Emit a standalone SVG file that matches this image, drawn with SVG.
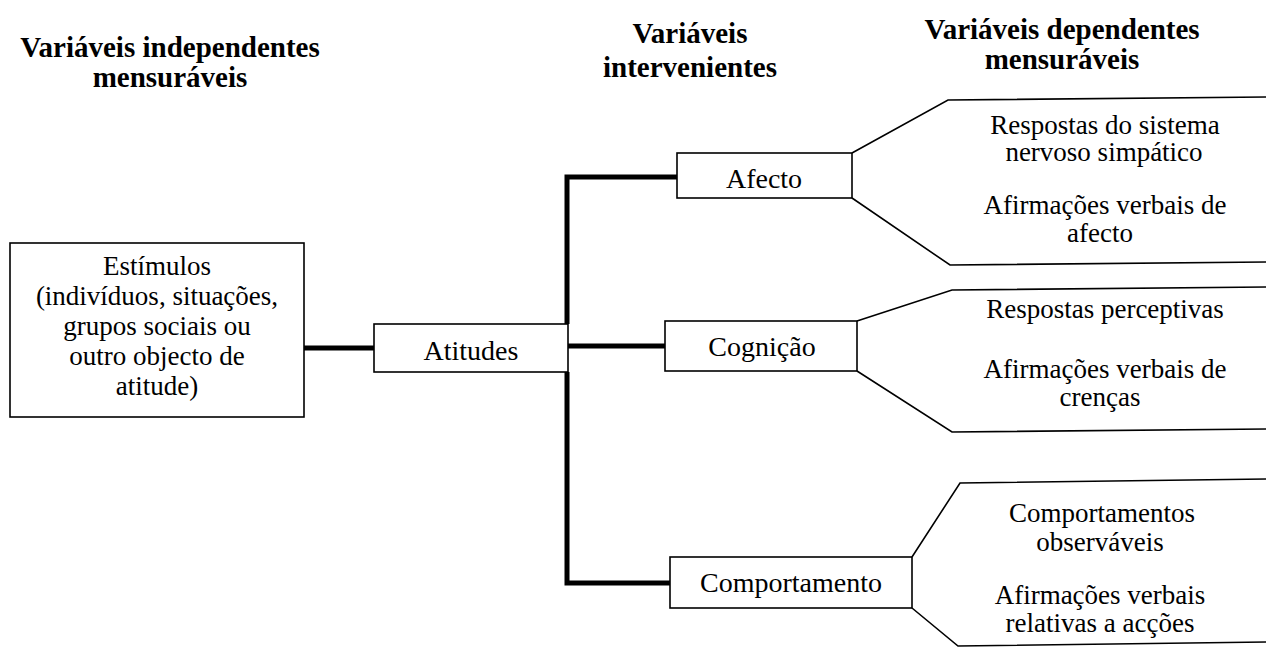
<svg xmlns="http://www.w3.org/2000/svg" width="1266" height="648" viewBox="0 0 1266 648">
<rect width="1266" height="648" fill="#fff"/>
<g id="headers" fill="#000">
<text font-family="serif" font-size="29" font-weight="bold" text-anchor="middle" x="170" y="57">Variáveis independentes</text>
<text font-family="serif" font-size="29" font-weight="bold" text-anchor="middle" x="170" y="87">mensuráveis</text>
<text font-family="serif" font-size="29" font-weight="bold" text-anchor="middle" x="690" y="43">Variáveis</text>
<text font-family="serif" font-size="29" font-weight="bold" text-anchor="middle" x="690" y="77">intervenientes</text>
<text font-family="serif" font-size="29" font-weight="bold" text-anchor="middle" x="1062" y="39">Variáveis dependentes</text>
<text font-family="serif" font-size="29" font-weight="bold" text-anchor="middle" x="1062" y="69">mensuráveis</text>
</g>
<g id="connectors" fill="none" stroke="#000" stroke-width="5">
<line x1="304" y1="348" x2="374" y2="348"/>
<polyline points="677,177 567,177 567,324"/>
<polyline points="567,372 567,583 670,583"/>
<line x1="567" y1="346" x2="665" y2="346"/>
</g>
<g id="estimulos">
<rect x="10" y="243" width="294" height="174" fill="#fff" stroke="#000" stroke-width="1.6"/>
<text font-family="serif" font-size="27" text-anchor="middle" x="157" y="275">Estímulos</text>
<text font-family="serif" font-size="27" text-anchor="middle" x="157" y="305">(indivíduos, situações,</text>
<text font-family="serif" font-size="27" text-anchor="middle" x="157" y="335">grupos sociais ou</text>
<text font-family="serif" font-size="27" text-anchor="middle" x="157" y="365">outro objecto de</text>
<text font-family="serif" font-size="27" text-anchor="middle" x="157" y="395">atitude)</text>
</g>
<g id="atitudes">
<rect x="374" y="324" width="194" height="48" fill="#fff" stroke="#000" stroke-width="1.6"/>
<text font-family="serif" font-size="28" text-anchor="middle" x="471" y="360">Atitudes</text>
</g>
<g id="afecto">
<rect x="677" y="153" width="175" height="45" fill="#fff" stroke="#000" stroke-width="1.6"/>
<text font-family="serif" font-size="28" text-anchor="middle" x="764" y="188">Afecto</text>
</g>
<g id="cognicao">
<rect x="665" y="321" width="192" height="50" fill="#fff" stroke="#000" stroke-width="1.6"/>
<text font-family="serif" font-size="28" text-anchor="middle" x="762" y="356">Cognição</text>
</g>
<g id="comportamento">
<rect x="670" y="557" width="242" height="51" fill="#fff" stroke="#000" stroke-width="1.6"/>
<text font-family="serif" font-size="28" text-anchor="middle" x="791" y="592">Comportamento</text>
</g>
<g id="dep-afecto">
<polyline points="1266,97 948,100 852,153" fill="none" stroke="#000" stroke-width="1.6"/>
<polyline points="852,198 950,265 1266,262" fill="none" stroke="#000" stroke-width="1.6"/>
<text font-family="serif" font-size="27" text-anchor="middle" x="1105" y="134">Respostas do sistema</text>
<text font-family="serif" font-size="27" text-anchor="middle" x="1104" y="161">nervoso simpático</text>
<text font-family="serif" font-size="27" text-anchor="middle" x="1105" y="214">Afirmações verbais de</text>
<text font-family="serif" font-size="27" text-anchor="middle" x="1100" y="242">afecto</text>
</g>
<g id="dep-cognicao">
<polyline points="1266,287 952,290 857,321" fill="none" stroke="#000" stroke-width="1.6"/>
<polyline points="857,371 952,432 1266,429" fill="none" stroke="#000" stroke-width="1.6"/>
<text font-family="serif" font-size="27" text-anchor="middle" x="1105" y="318">Respostas perceptivas</text>
<text font-family="serif" font-size="27" text-anchor="middle" x="1105" y="378">Afirmações verbais de</text>
<text font-family="serif" font-size="27" text-anchor="middle" x="1100" y="406">crenças</text>
</g>
<g id="dep-comportamento">
<polyline points="1266,479 960,483 912,557" fill="none" stroke="#000" stroke-width="1.6"/>
<polyline points="912,608 958,646 1266,642" fill="none" stroke="#000" stroke-width="1.6"/>
<text font-family="serif" font-size="27" text-anchor="middle" x="1102" y="522">Comportamentos</text>
<text font-family="serif" font-size="27" text-anchor="middle" x="1100" y="551">observáveis</text>
<text font-family="serif" font-size="27" text-anchor="middle" x="1100" y="604">Afirmações verbais</text>
<text font-family="serif" font-size="27" text-anchor="middle" x="1100" y="632">relativas a acções</text>
</g>
</svg>
